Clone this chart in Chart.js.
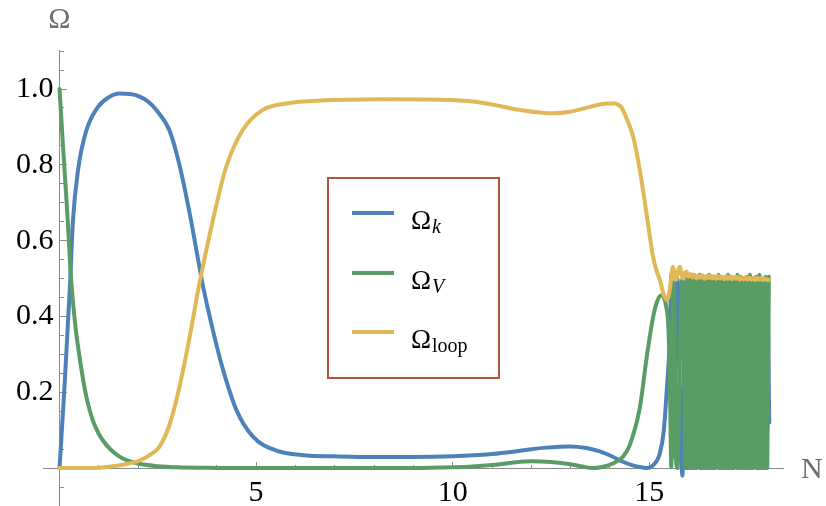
<!DOCTYPE html>
<html>
<head>
<meta charset="utf-8">
<script src="https://cdn.jsdelivr.net/npm/chart.js@4.4.0/dist/chart.umd.min.js"></script>
<style>
  html, body { margin: 0; padding: 0; background: #fff; }
  #omegaChart { display: block; }
</style>
</head>
<body>
<canvas id="omegaChart" width="826" height="506" style="width:826px;height:506px"></canvas>
<script>
// Density parameters against e-folds N: [N, Omega] pairs per series
var omegaK = [
    [0, 0], [0.13, 0.22], [0.27, 0.49], [0.34, 0.65], [0.47, 0.786], [0.68, 0.89], [0.98, 0.953],
    [1.25, 0.978], [1.53, 0.988], [1.8, 0.987], [2.04, 0.98], [2.25, 0.967], [2.46, 0.945],
    [2.8, 0.89], [3.05, 0.80], [3.31, 0.672], [3.56, 0.53], [3.65, 0.48], [3.9, 0.364],
    [4.16, 0.259], [4.5, 0.153], [4.92, 0.083], [5.5, 0.047], [6.2, 0.034], [7, 0.031],
    [8, 0.029], [9, 0.029], [10, 0.031], [11, 0.037], [11.53, 0.043], [12, 0.05], [12.38, 0.054],
    [12.98, 0.057], [13.4, 0.053], [13.74, 0.044], [14.07, 0.03], [14.3, 0.018], [14.58, 0.007],
    [14.8, 0.002], [14.95, 0], [15.1, 0.008], [15.27, 0.04], [15.37, 0.1], [15.44, 0.2],
    [15.52, 0.34], [15.56, 0.51],
    // fast oscillation after N ~ 15.6
    [15.60, 0.03], [15.64, 0.06], [15.68, 0.48], [15.72, 0.50], [15.76, 0.30], [15.80, 0.10],
    [15.84, -0.02], [15.88, 0.20], [15.92, 0.49], [15.96, 0.0], [16.00, 0.50], [16.04, 0.0],
    [16.08, 0.49], [16.12, 0.0], [16.16, 0.50], [16.20, 0.0], [16.24, 0.49], [16.28, 0.0],
    [16.32, 0.50], [16.36, 0.0], [16.40, 0.49], [16.44, 0.0], [16.48, 0.50], [16.52, 0.0],
    [16.56, 0.49], [16.60, 0.0], [16.64, 0.50], [16.68, 0.0], [16.72, 0.49], [16.76, 0.0],
    [16.80, 0.50], [16.84, 0.0], [16.88, 0.49], [16.92, 0.0], [16.96, 0.50], [17.00, 0.0],
    [17.04, 0.49], [17.08, 0.0], [17.12, 0.50], [17.16, 0.0], [17.20, 0.49], [17.24, 0.0],
    [17.28, 0.50], [17.32, 0.0], [17.36, 0.49], [17.40, 0.0], [17.44, 0.50], [17.48, 0.0],
    [17.52, 0.49], [17.56, 0.0], [17.60, 0.50], [17.64, 0.0], [17.68, 0.49], [17.72, 0.0],
    [17.76, 0.50], [17.80, 0.0], [17.84, 0.49], [17.88, 0.0], [17.92, 0.50], [17.96, 0.0],
    [18.00, 0.49], [18.05, 0.12]
];

var omegaV = [
    [0, 1.0], [0.1, 0.83], [0.2, 0.67], [0.28, 0.52], [0.35, 0.43], [0.42, 0.36], [0.5, 0.3],
    [0.59, 0.24], [0.7, 0.18], [0.85, 0.125], [1.0, 0.09], [1.2, 0.06], [1.4, 0.04], [1.6, 0.026],
    [2.0, 0.012], [2.5, 0.005], [3.0, 0.002], [4.0, 0.0005], [5, 0], [9, 0], [10, 0.002],
    [10.5, 0.004], [11, 0.008], [11.5, 0.014], [12, 0.018], [12.5, 0.016], [13, 0.01],
    [13.3, 0.004], [13.56, 0], [13.8, 0.003], [14.07, 0.012], [14.33, 0.03], [14.5, 0.06],
    [14.76, 0.16], [14.93, 0.29], [15.1, 0.40], [15.2, 0.44], [15.31, 0.456], [15.43, 0.426],
    [15.48, 0.38], [15.52, 0.25], [15.56, 0.003],
    // fast oscillation after N ~ 15.6
    [15.60, 0.49], [15.64, 0.45], [15.68, 0.02], [15.72, 0.0], [15.76, 0.20], [15.80, 0.40],
    [15.84, 0.50], [15.88, 0.30], [15.92, 0.0], [15.96, 0.50], [16.00, 0.0], [16.04, 0.505],
    [16.08, 0.0], [16.12, 0.51], [16.16, 0.0], [16.20, 0.505], [16.24, 0.004], [16.28, 0.51],
    [16.32, 0.0], [16.36, 0.505], [16.40, 0.0], [16.44, 0.50], [16.48, 0.0], [16.52, 0.51],
    [16.56, 0.0], [16.60, 0.505], [16.64, 0.0], [16.68, 0.50], [16.72, 0.004], [16.76, 0.51],
    [16.80, 0.0], [16.84, 0.505], [16.88, 0.0], [16.92, 0.50], [16.96, 0.0], [17.00, 0.51],
    [17.04, 0.0], [17.08, 0.505], [17.12, 0.0], [17.16, 0.50], [17.20, 0.004], [17.24, 0.51],
    [17.28, 0.0], [17.32, 0.505], [17.36, 0.0], [17.40, 0.50], [17.44, 0.0], [17.48, 0.505],
    [17.52, 0.0], [17.56, 0.51], [17.60, 0.0], [17.64, 0.50], [17.68, 0.004], [17.72, 0.505],
    [17.76, 0.0], [17.80, 0.51], [17.84, 0.0], [17.88, 0.50], [17.92, 0.0], [17.96, 0.505],
    [18.00, 0.0], [18.04, 0.505]
];

var omegaLoop = [
    [0, 0], [0.5, 0], [1.0, 0.001], [1.3, 0.004], [1.6, 0.009], [2.04, 0.02], [2.3, 0.035],
    [2.54, 0.056], [2.8, 0.115], [3.05, 0.214], [3.31, 0.346], [3.56, 0.488], [3.9, 0.654],
    [4.24, 0.795], [4.66, 0.892], [5.17, 0.945], [5.77, 0.962], [6.53, 0.969], [8.3, 0.973],
    [10, 0.971], [10.86, 0.962], [11.7, 0.945], [12.55, 0.936], [12.98, 0.94], [13.5, 0.953],
    [13.91, 0.962], [14.1, 0.962], [14.3, 0.95], [14.45, 0.915], [14.59, 0.874], [14.7, 0.82],
    [14.8, 0.76], [14.96, 0.65], [15.09, 0.56], [15.2, 0.515], [15.27, 0.496], [15.36, 0.46],
    [15.45, 0.443], [15.52, 0.47], [15.6, 0.531], [15.65, 0.51], [15.69, 0.497], [15.73, 0.52],
    [15.78, 0.531], [15.82, 0.51], [15.86, 0.5], [15.9, 0.515], [15.95, 0.518], [16.0, 0.505],
    [16.05, 0.512], [16.1, 0.503], [16.15, 0.51], [16.2, 0.5], [16.25, 0.508], [16.3, 0.502],
    [16.35, 0.509], [16.4, 0.499], [16.45, 0.507], [16.5, 0.501], [16.55, 0.508], [16.6, 0.5],
    [16.65, 0.506], [16.7, 0.499], [16.75, 0.507], [16.8, 0.5], [16.85, 0.505], [16.9, 0.498],
    [16.95, 0.506], [17.0, 0.499], [17.05, 0.505], [17.1, 0.498], [17.15, 0.504], [17.2, 0.499],
    [17.25, 0.505], [17.3, 0.497], [17.35, 0.503], [17.4, 0.498], [17.45, 0.504], [17.5, 0.497],
    [17.55, 0.502], [17.6, 0.497], [17.65, 0.503], [17.7, 0.496], [17.75, 0.502], [17.8, 0.497],
    [17.85, 0.501], [17.9, 0.496], [17.95, 0.5], [18.0, 0.496], [18.05, 0.497]
];

var seriesSymbol = ['Ω', 'Ω', 'Ω'];
var seriesSub = ['k', 'V', 'loop'];
var seriesSubItalic = [true, true, false];
var seriesColors = ['#4E80B9', '#5A9C66', '#E0B858'];

var nRange = [-0.42, 18.4];
var omegaRange = [-0.1, 1.103];

var axisGray = '#8a8a8a';
var serif = "'Liberation Serif', 'Times New Roman', serif";

toXY = (pairs) => pairs.map(p => ({ x: p[0], y: p[1] }));

// Mathematica-style frame: Omega / N titles and a boxed legend with subscripts
var plotDecor = {
    id: 'plotDecor',
    afterDraw: (chart) => {
        const ctx = chart.ctx;
        const xs = chart.scales.x, ys = chart.scales.y;
        ctx.save();
        ctx.fillStyle = '#6e6e6e';
        ctx.font = '30px ' + serif;
        ctx.textAlign = 'center';
        ctx.textBaseline = 'alphabetic';
        ctx.fillText('Ω', xs.getPixelForValue(0), 28);
        ctx.textAlign = 'left';
        ctx.fillText('N', 801, ys.getPixelForValue(0) + 10);

        // legend frame
        ctx.strokeStyle = '#B0543A';
        ctx.lineWidth = 2;
        ctx.strokeRect(328, 178, 171, 200);

        const rows = [213, 273, 332];
        for (let i = 0; i < rows.length; i++) {
            const y = rows[i];
            ctx.strokeStyle = seriesColors[i];
            ctx.lineWidth = 4;
            ctx.beginPath();
            ctx.moveTo(352, y);
            ctx.lineTo(394, y);
            ctx.stroke();

            ctx.fillStyle = '#000';
            ctx.font = '27px ' + serif;
            ctx.fillText(seriesSymbol[i], 411, y + 16);
            const w = ctx.measureText(seriesSymbol[i]).width;
            ctx.font = (seriesSubItalic[i] ? 'italic ' : '') + '20px ' + serif;
            ctx.fillText(seriesSub[i], 411 + w + 1, y + 20);
        }
        ctx.restore();
    }
};

var tickFont = { family: serif, size: 30 };

var omegaConfig = {
    type: 'line',
    data: {
        datasets: [{
            label: 'Ωk',
            data: toXY(omegaK),
            borderColor: seriesColors[0],
            order: 2,
        }, {
            label: 'ΩV',
            data: toXY(omegaV),
            borderColor: seriesColors[1],
            order: 1,
        }, {
            label: 'Ωloop',
            data: toXY(omegaLoop),
            borderColor: seriesColors[2],
            order: 0,
        }],
    },
    options: {
        responsive: false,
        animation: false,
        devicePixelRatio: 1,
        layout: { padding: { left: 43, right: 43, top: 50, bottom: 0 } },
        elements: {
            point: { radius: 0 },
            line: { borderWidth: 4, cubicInterpolationMode: 'monotone', borderJoinStyle: 'round', borderCapStyle: 'round', fill: false },
        },
        plugins: {
            legend: { display: false },
            tooltip: { enabled: false },
        },
        scales: {
            x: {
                type: 'linear', min: nRange[0], max: nRange[1], position: { y: 0 },
                ticks: { stepSize: 1, includeBounds: false, autoSkip: false, maxRotation: 0, callback: () => '' },
                grid: { drawOnChartArea: false, tickLength: -4, tickColor: axisGray },
                border: { color: axisGray, width: 1 },
            },
            xMajor: {
                type: 'linear', axis: 'x', min: nRange[0], max: nRange[1], position: { y: 0 },
                ticks: {
                    stepSize: 5, includeBounds: false, autoSkip: false, maxRotation: 0,
                    color: '#000', font: tickFont, padding: 14,
                    callback: (v) => v === 0 ? '' : String(v),
                },
                grid: { drawOnChartArea: false, tickLength: -7, tickColor: axisGray },
                border: { color: axisGray, width: 1 },
            },
            // negative padding keeps the y label half-heights from shrinking the plot area
            y: {
                type: 'linear', min: omegaRange[0], max: omegaRange[1], position: { x: 0 },
                ticks: { stepSize: 0.05, includeBounds: false, autoSkip: false, padding: -20, callback: () => '' },
                grid: { drawOnChartArea: false, tickLength: -5, tickColor: axisGray },
                border: { color: axisGray, width: 1 },
            },
            yMajor: {
                type: 'linear', axis: 'y', min: omegaRange[0], max: omegaRange[1], position: { x: 0 },
                ticks: {
                    stepSize: 0.2, includeBounds: false, autoSkip: false,
                    color: '#000', font: tickFont, padding: -20,
                    callback: (v) => v > 0.01 ? v.toFixed(1) + '\u2009' : '',
                },
                grid: { drawOnChartArea: false, tickLength: -8, tickColor: axisGray },
                border: { color: axisGray, width: 1 },
            },
        },
    },
    plugins: [plotDecor],
};

var omegaCtx = document.getElementById('omegaChart');
window.omegaChart = new Chart(omegaCtx, omegaConfig);
</script>
</body>
</html>
